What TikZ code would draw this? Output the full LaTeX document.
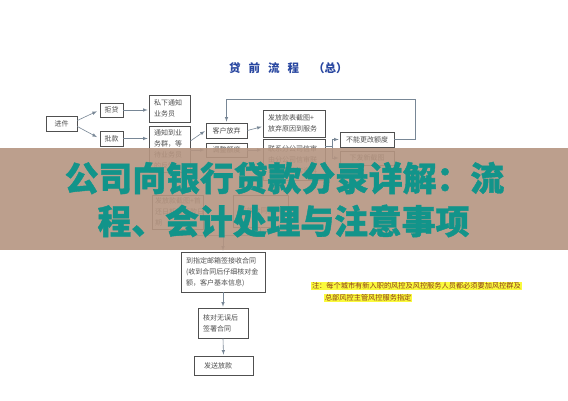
\documentclass[tikz,border=0pt]{standalone}
\usepackage{fontspec}
\usepackage{tikz}
\usepackage{xcolor}
\usetikzlibrary{shapes.geometric, arrows, positioning, calc}
\newfontfamily\cjk{Noto Sans CJK SC}
\newfontfamily\cjkhead{Noto Sans CJK SC}[BoldFeatures={FakeBold=1.2}]
\definecolor{boxgray}{RGB}{80,80,80}
\definecolor{arrowgray}{RGB}{120,135,150}
\definecolor{titleblue}{RGB}{40,70,160}
\definecolor{bandbrown}{RGB}{181,149,129}
\definecolor{headteal}{RGB}{18,148,138}
\definecolor{noteyellow}{RGB}{250,250,60}
\definecolor{notered}{RGB}{140,60,30}

\begin{document}
\begin{tikzpicture}[x=1pt,y=-1pt,
  box/.style={draw=boxgray, line width=0.7pt, text=boxgray, inner ysep=0pt, inner xsep=5pt,
    font=\cjk\fontsize{7}{11}\selectfont, align=left},
  flow/.style={draw=arrowgray, line width=0.6pt, -latex, shorten >=1pt},
  link/.style={draw=arrowgray, line width=0.6pt},
  note/.style={fill=noteyellow, text=notered, inner sep=0.8pt, font=\cjk\fontsize{7.2}{8}\selectfont},
  headline/.style={text=headteal, inner sep=0pt, font=\cjkhead\bfseries\fontsize{33.8}{40}\selectfont}]
\useasboundingbox (0,0) rectangle (568,400);
\fill[white] (0,0) rectangle (568,400);

% title
\node[anchor=west, text=titleblue, inner sep=0pt, font=\cjk\bfseries\fontsize{11.5}{13}\selectfont] (title) at (229,68)
  {贷\hspace{8pt}前\hspace{8pt}流\hspace{8pt}程\hspace{14pt}（总）};

% first column
\node[box, minimum width=31, minimum height=15, align=center] (jinjian) at (61.5,123.5) {进件};
\node[box, minimum width=23, minimum height=14, align=center, inner xsep=2pt] (judai) at (111.5,110) {拒贷};
\node[box, minimum width=23, minimum height=15, align=center, inner xsep=2pt] (pikuan) at (111.5,138.5) {批款};
\node[box, minimum width=41, minimum height=27, text width=31] (sixia) at (169.5,108.5) {私下通知\\业务员};
\node[box, minimum width=41, minimum height=46, text width=31] (tongzhi) at (169.5,149) {通知到业\\务群，等\\待业务员\\的反馈};

% second column
\node[box, minimum width=41, minimum height=15, align=center] (fangqi) at (226.5,130.5) {客户放弃};
\node[box, minimum width=41, minimum height=14, align=center] (tiaozheng) at (226.5,150) {调整额度};
\node[box, minimum width=62, minimum height=27, text width=52] (jietu) at (294,123.5) {发放款表截图+\\放弃原因到服务};
\node[box, minimum width=62, minimum height=41, text width=52] (xinshen) at (294,159.5) {联系分公司信审\\由分公司信审联\\系客户核实资料};
\node[box, minimum width=54, minimum height=15, align=center] (bunen) at (367,139.5) {不能更改额度};
\node[box, minimum width=54, minimum height=14, align=center] (xiafa) at (367,158) {下发新截图};

% hidden row
\node[box, minimum width=51, minimum height=34, text width=45, inner xsep=3pt] (shouhuan) at (177.5,212) {发放款截图+首\\还日期及还款日\\期};
\node[box, minimum width=55, minimum height=32, align=center] (hetong) at (260.5,211) {发放合同资料};

% contract steps
\node[box, minimum width=84, minimum height=40, text width=74] (youxiang) at (223,272) {到指定邮箱签接收合同\\(收到合同后仔细核对金\\额，客户基本信息)};
\node[box, minimum width=50, minimum height=30, text width=40] (hedui) at (223,323) {核对无误后\\签署合同};
\node[box, minimum width=59, minimum height=19, text width=39, inner xsep=10pt] (fasong) at (223.5,365.5) {发送放款};

% connectors
\draw[flow, shorten >=3pt] ($(jinjian.east)+(0,-3)$) -- (judai.west);
\draw[flow, shorten >=3pt] ($(jinjian.east)+(0,3)$) -- (pikuan.west);
\draw[flow] (judai.east) -- (judai.east -| sixia.west);
\draw[flow] (pikuan.east) -- (pikuan.east -| tongzhi.west);
\draw[flow] ($(tongzhi.east)+(0,-8)$) -- (fangqi.west);
\draw[flow] (tongzhi.east |- tiaozheng.west) -- (tiaozheng.west);
\draw[flow] (fangqi.east) -- ($(jietu.west)+(0,3)$);
\draw[flow] (tiaozheng.east) -- (tiaozheng.east -| xinshen.west);
\coordinate (fork) at ($(xinshen.north east)+(7,8)$);
\draw[link] ($(xinshen.north east)+(0,8)$) -- (fork);
\draw[flow] (fork) |- (bunen.west);
\draw[flow] (fork) |- (xiafa.west);
\coordinate (loopR) at (415,99);
\draw[flow] (bunen.east) -| (loopR) -| (fangqi.north);
\coordinate (merge) at ($(youxiang.north)+(0,-16)$);
\draw[link] (shouhuan.south) |- (merge);
\draw[link] (hetong.south) |- (merge);
\draw[flow] (merge) -- (youxiang.north);
\draw[flow] (youxiang.south) -- (hedui.north);
\draw[flow] (hedui.south) -- (fasong.north);

% note
\node[note, anchor=west] (noteA) at (311,286) {注：每个城市有新入职的风控及风控服务人员都必须要加风控群及};
\node[note, anchor=west] (noteB) at (324,298) {总部风控主管风控服务指定};

% overlay band
\fill[bandbrown, opacity=0.9] (0,148) rectangle (568,250);
\node[headline] (headA) at (284.5,178) {公司向银行贷款分录详解：流};
\node[headline] (headB) at (283.5,221) {程、会计处理与注意事项};
\end{tikzpicture}
\end{document}
